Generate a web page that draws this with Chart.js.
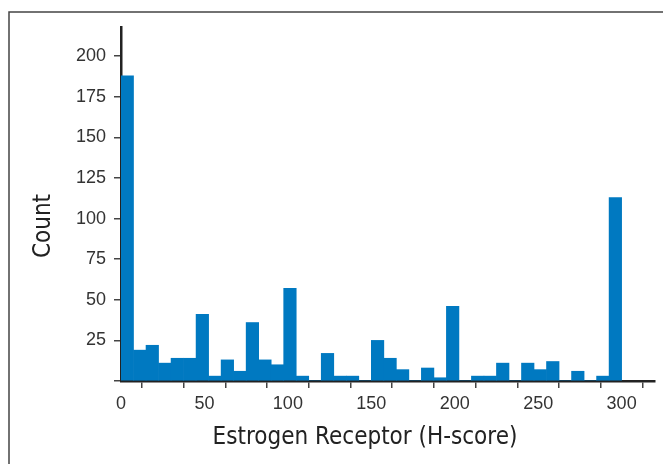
<!DOCTYPE html>
<html>
<head>
<meta charset="utf-8">
<script src="https://cdn.jsdelivr.net/npm/chart.js@4/dist/chart.umd.min.js"></script>
<style>
  html, body { margin: 0; padding: 0; background: #fff; }
  #wrap { position: relative; width: 663px; height: 464px; }
</style>
</head>
<body>
<div id="wrap"><canvas id="histChart" width="663" height="464"></canvas></div>
<script>
// Estrogen receptor H-score histogram, 40 bins of width 7.5
const binWidth = 7.5;
const binStarts = [0, 7.5, 15, 22.5, 30, 37.5, 45, 52.5, 60, 67.5,
    75, 82.5, 90, 97.5, 105, 112.5, 120, 127.5, 135, 142.5,
    150, 157.5, 165, 172.5, 180, 187.5, 195, 202.5, 210, 217.5,
    225, 232.5, 240, 247.5, 255, 262.5, 270, 277.5, 285, 292.5];
const counts = [188, 19, 22, 11, 14, 14, 41, 3, 13, 6,
    36, 13, 10, 57, 3, 0, 17, 3, 3, 0,
    25, 14, 7, 0, 8, 2, 46, 0, 3, 3,
    11, 0, 11, 7, 12, 0, 6, 0, 3, 113];
const xTicks = [0, 50, 100, 150, 200, 250, 300];
const yTicks = [25, 50, 75, 100, 125, 150, 175, 200];
const xTitle = 'Estrogen Receptor (H-score)';
const yTitle = 'Count';

const barColor = '#0079c1';
const axisColor = '#222';
const tickFont = { family: 'Liberation Sans', size: 18 };
const titleFont = '24px "DejaVu Sans Condensed", "Liberation Sans Narrow", sans-serif';

// frame line round the figure and the two axis titles
const frameAndTitles = {
    id: 'frameAndTitles',
    beforeDraw(chart) {
        const ctx = chart.ctx;
        ctx.save();
        ctx.strokeStyle = '#444';
        ctx.lineWidth = 1.5;
        ctx.beginPath();
        ctx.moveTo(9, chart.height + 5);
        ctx.lineTo(9, 12);
        ctx.lineTo(chart.width + 5, 12);
        ctx.stroke();
        ctx.restore();
    },
    afterDraw(chart) {
        const ctx = chart.ctx;
        ctx.save();
        ctx.fillStyle = axisColor;
        ctx.font = titleFont;
        ctx.textAlign = 'center';
        ctx.textBaseline = 'middle';
        ctx.fillText(xTitle, 365, 438);
        ctx.translate(44, 226);
        ctx.rotate(-Math.PI / 2);
        ctx.fillText(yTitle, 0, 0);
        ctx.restore();
    }
};

const ctx = document.getElementById('histChart');
new Chart(ctx, {
    type: 'bar',
    data: {
        datasets: [{
            data: binStarts.map((s, i) => ({ x: s + binWidth / 2, y: counts[i] })),
            backgroundColor: barColor,
            borderWidth: 0,
            barPercentage: 1,
            categoryPercentage: 1
        }]
    },
    options: {
        responsive: false,
        animation: false,
        layout: { padding: { top: 27, right: 8, left: 0, bottom: 0 } },
        plugins: {
            legend: { display: false },
            tooltip: { enabled: false }
        },
        scales: {
            x: {
                type: 'linear',
                min: 0,
                max: 320,
                offset: false,
                border: { color: axisColor, width: 2.5 },
                grid: { drawOnChartArea: false, drawTicks: true, tickLength: 7, tickColor: '#444', lineWidth: 1.5 },
                ticks: {
                    stepSize: 25,
                    includeBounds: false,
                    autoSkip: false,
                    maxRotation: 0,
                    padding: 5,
                    color: '#333',
                    font: tickFont,
                    callback: v => xTicks.includes(v) ? v : ''
                },
                afterFit: s => { s.height = 83; }
            },
            y: {
                min: 0,
                max: 218,
                border: { color: axisColor, width: 2.5 },
                grid: { drawOnChartArea: false, drawTicks: true, tickLength: 7, tickColor: '#444', lineWidth: 1.5 },
                ticks: {
                    stepSize: 25,
                    includeBounds: false,
                    padding: 8,
                    color: '#333',
                    font: tickFont,
                    callback: v => yTicks.includes(v) ? v : ''
                },
                afterFit: s => { s.width = 121; }
            }
        }
    },
    plugins: [frameAndTitles]
});
</script>
</body>
</html>
